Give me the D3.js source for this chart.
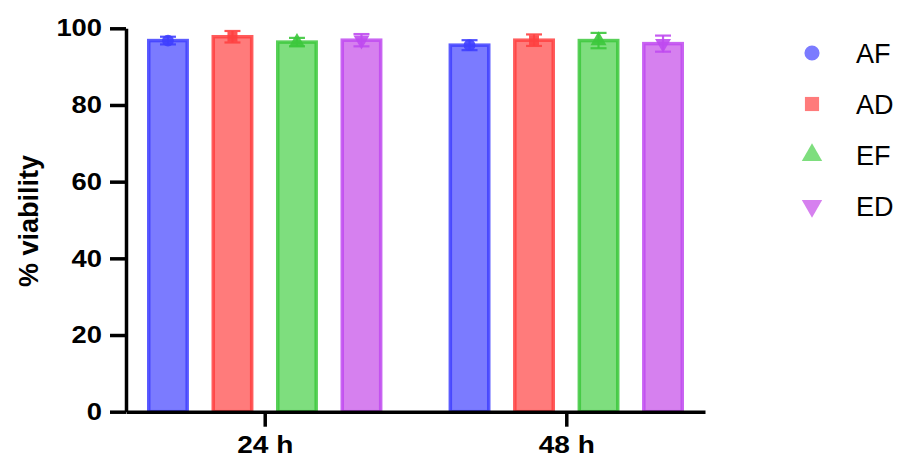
<!DOCTYPE html>
<html>
<head>
<meta charset="utf-8">
<script src="https://cdn.jsdelivr.net/npm/d3@7"></script>
<style>
  html, body { margin: 0; padding: 0; background: #fff; }
  svg { display: block; font-family: "Liberation Sans", Arial, sans-serif; }
</style>
</head>
<body>
<svg id="chart" width="900" height="459"></svg>
<script>
// ---- data ----
const categories = ["24 h", "48 h"];
const seriesNames = ["AF", "AD", "EF", "ED"];
const meanAF = [96.8, 95.6];
const meanAD = [97.8, 96.9];
const meanEF = [96.4, 96.8];
const meanED = [96.9, 96.0];
const sdAF = [1.0, 1.3];
const sdAD = [1.5, 1.5];
const sdEF = [1.1, 2.0];
const sdED = [1.6, 2.1];
const yTicks = [0, 20, 40, 60, 80, 100];
const yTitle = "% viability";

// ---- styles ----
const fills   = ["#7b7bff", "#ff7b7b", "#7ede7e", "#d680ef"];
const strokes = ["#3f3fff", "#ff4040", "#3cc83c", "#bf4af0"];
const shapes  = [d3.symbolCircle, d3.symbolSquare, d3.symbolTriangle, d3.symbolTriangle];
const rotations = [0, 0, 0, 180];

const means = [meanAF, meanAD, meanEF, meanED];
const sds = [sdAF, sdAD, sdEF, sdED];

const svg = d3.select("#chart");

const y = d3.scaleLinear().domain([0, 100]).range([411.7, 28.3]);
const x = d3.scalePoint().domain(categories).range([126, 705]).padding(0.46);
const sub = d3.scaleBand().domain(seriesNames).range([-129, 129])
  .paddingInner(0.35).paddingOuter(0.175);

const sw = 3.5;
const g = svg.append("g");

categories.forEach((cat, ci) => {
  seriesNames.forEach((s, si) => {
    const v = means[si][ci];
    const e = sds[si][ci];
    const bx = x(cat) + sub(s);
    const bw = sub.bandwidth();
    g.append("rect")
      .attr("x", bx + sw / 2)
      .attr("y", y(v))
      .attr("width", bw - sw)
      .attr("height", y(0) - y(v))
      .attr("fill", fills[si])
      .attr("stroke", strokes[si])
      .attr("stroke-opacity", 0.85)
      .attr("stroke-width", sw);
    const cx = bx + bw / 2;
    const capW = 16;
    const eg = g.append("g").attr("stroke", strokes[si]).attr("stroke-width", 2.2).attr("stroke-opacity", 0.9);
    eg.append("line").attr("x1", cx).attr("x2", cx).attr("y1", y(v - e)).attr("y2", y(v + e));
    eg.append("line").attr("x1", cx - capW / 2).attr("x2", cx + capW / 2).attr("y1", y(v + e)).attr("y2", y(v + e));
    eg.append("line").attr("x1", cx - capW / 2).attr("x2", cx + capW / 2).attr("y1", y(v - e)).attr("y2", y(v - e));
    g.append("path")
      .attr("d", d3.symbol().type(shapes[si]).size(si === 1 ? 100 : 110)())
      .attr("transform", `translate(${cx},${y(v)}) rotate(${rotations[si]})`)
      .attr("fill", strokes[si])
      .attr("fill-opacity", 0.9);
  });
});

// axes
const yTickSize = 16, yTickPad = 8, yStretch = 1.14;
const yAxis = svg.append("g")
  .attr("transform", `translate(126,0)`)
  .call(d3.axisLeft(y).tickValues(yTicks).tickSize(yTickSize).tickSizeOuter(0).tickPadding(yTickPad));
const xAxis = svg.append("g")
  .attr("transform", `translate(0,${y(0)})`)
  .call(d3.axisBottom(x).tickSize(15).tickSizeOuter(0).tickPadding(9));

[yAxis, xAxis].forEach(a => {
  a.select(".domain").attr("stroke", "#000").attr("stroke-width", 3.5);
  a.selectAll(".tick line").attr("stroke", "#000").attr("stroke-width", 3.5);
  a.selectAll(".tick text")
    .attr("fill", "#000")
    .style("font-family", "'Liberation Sans', Arial, sans-serif")
    .style("font-weight", "bold")
    .style("font-size", "24px");
});
yAxis.selectAll(".tick text")
  .attr("x", -(yTickSize + yTickPad) / yStretch)
  .attr("transform", `scale(${yStretch},1)`);
xAxis.selectAll(".tick text")
  .style("font-size", "24px")
  .attr("transform", `scale(1.17,1)`);

svg.append("text")
  .attr("transform", `translate(38,221) rotate(-90)`)
  .attr("text-anchor", "middle")
  .style("font-weight", "bold")
  .style("font-size", "27px")
  .text(yTitle);

// legend
const legend = svg.append("g");
seriesNames.forEach((s, si) => {
  const ly = 53 + si * 51;
  legend.append("path")
    .attr("d", d3.symbol().type(shapes[si]).size(si === 1 ? 200 : 180)())
    .attr("transform", `translate(812,${ly}) rotate(${rotations[si]})`)
    .attr("fill", fills[si]);
  legend.append("text")
    .attr("x", 856)
    .attr("y", ly + 10)
    .style("font-size", "27px")
    .text(s);
});
</script>
</body>
</html>
